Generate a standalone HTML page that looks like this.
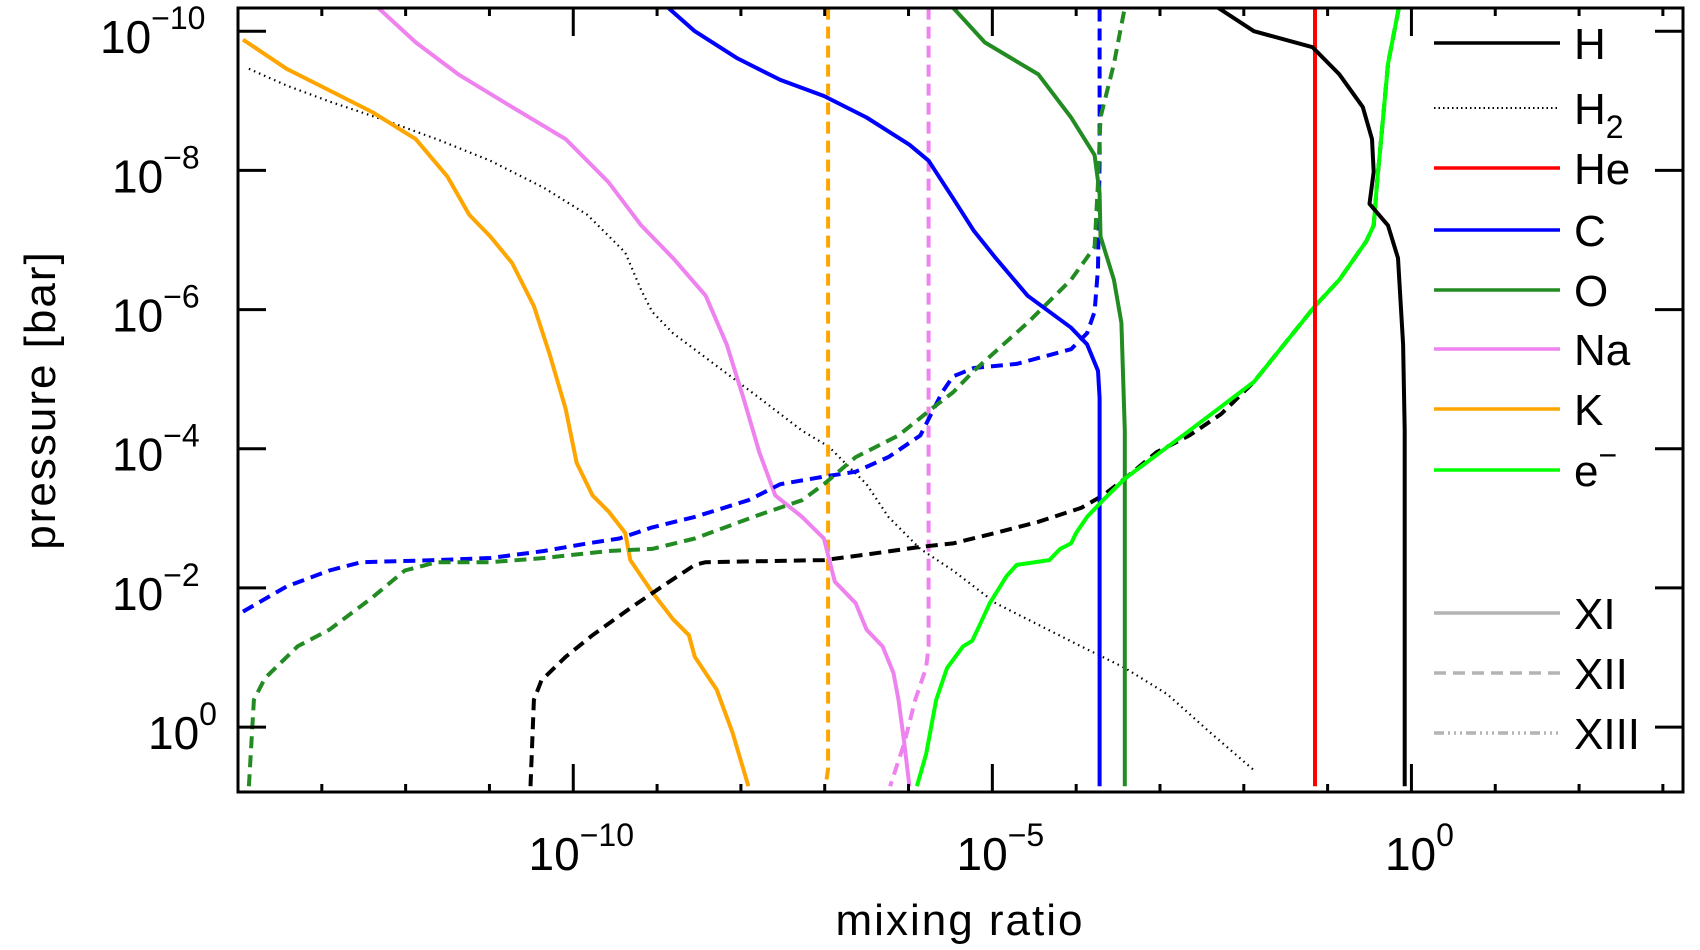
<!DOCTYPE html>
<html><head><meta charset="utf-8"><style>
html,body{margin:0;padding:0;background:#fff;}
svg{display:block;font-family:"Liberation Sans",sans-serif;}
</style></head><body>
<svg id="chart" width="1700" height="950" viewBox="0 0 1700 950" xmlns="http://www.w3.org/2000/svg">
<defs><clipPath id="plotclip"><rect x="238" y="8" width="1445" height="784"/></clipPath></defs>
<g id="series" clip-path="url(#plotclip)"></g>
<g id="axes"></g>
<g id="legend"></g>
<text x="960" y="935" font-size="44" text-anchor="middle" letter-spacing="2">mixing ratio</text>
<text transform="translate(55,400) rotate(-90)" font-size="44" text-anchor="middle" letter-spacing="2">pressure [bar]</text>
</svg>
<script>
// log10 values
const hSolidX=[-2.31,-1.88,-1.18,-0.86,-0.58,-0.47,-0.45,-0.5,-0.28,-0.16,-0.1,-0.08,-0.08];
const hSolidP=[-10.34,-10,-9.77,-9.38,-8.91,-8.45,-7.98,-7.52,-7.21,-6.74,-5.5,-4.26,0.85];
const hDashX=[-10.51,-10.47,-10.38,-10.09,-9.77,-9.32,-8.94,-8.55,-8.42,-7.01,-6.5,-5.86,-5.47,-4.96,-4.45,-3.94,-3.68,-3.42,-3.04,-2.65,-2.27,-1.88,-1.15,-0.86,-0.54,-0.45,-0.41,-0.35,-0.28,-0.15];
const hDashP=[0.85,-0.39,-0.67,-1.01,-1.32,-1.71,-2.02,-2.33,-2.37,-2.4,-2.48,-2.59,-2.64,-2.79,-2.95,-3.15,-3.33,-3.57,-3.95,-4.19,-4.5,-4.96,-6.05,-6.43,-6.98,-7.21,-7.83,-8.6,-9.53,-10.34];
const eX=[-5.9,-5.79,-5.67,-5.54,-5.35,-5.24,-5.15,-5.03,-4.83,-4.71,-4.32,-4.19,-4.06,-4,-3.87,-3.68,-3.42,-2.65,-1.88,-1.15,-0.86,-0.54,-0.45,-0.41,-0.35,-0.28,-0.15];
const eP=[0.85,0.39,-0.39,-0.85,-1.16,-1.24,-1.47,-1.78,-2.17,-2.33,-2.4,-2.56,-2.64,-2.79,-3.02,-3.26,-3.57,-4.26,-4.96,-6.05,-6.43,-6.98,-7.21,-7.83,-8.6,-9.53,-10.34];
const heX=[-1.15,-1.15];
const heP=[-10.34,0.85];
const h2X=[-13.87,-13.42,-12.91,-12.27,-11.63,-10.99,-10.35,-9.83,-9.38,-9.19,-9.06,-8.81,-8.29,-7.78,-7.27,-6.95,-6.76,-6.5,-6.24,-5.86,-5.47,-4.96,-4.45,-3.94,-3.42,-2.91,-2.4,-1.88];
const h2P=[-9.46,-9.22,-8.99,-8.73,-8.45,-8.14,-7.75,-7.36,-6.82,-6.28,-5.97,-5.66,-5.19,-4.73,-4.26,-4.03,-3.8,-3.49,-3.02,-2.56,-2.25,-1.78,-1.47,-1.16,-0.85,-0.47,0.08,0.62];
const cSolidX=[-8.87,-8.55,-8.04,-7.53,-7.01,-6.5,-5.99,-5.76,-5.47,-5.22,-4.96,-4.58,-4.06,-3.87,-3.74,-3.72,-3.72];
const cSolidP=[-10.34,-10,-9.61,-9.3,-9.07,-8.76,-8.37,-8.14,-7.6,-7.13,-6.74,-6.2,-5.74,-5.5,-5.12,-4.73,0.85];
const cDashX=[-13.94,-13.42,-12.91,-12.53,-11.63,-10.99,-10.35,-9.83,-9.45,-9.06,-8.55,-7.91,-7.53,-7.01,-6.63,-6.24,-5.86,-5.73,-5.6,-5.47,-5.22,-4.71,-4.06,-3.87,-3.78,-3.74,-3.72,-3.72];
const cDashP=[-1.66,-2.02,-2.25,-2.37,-2.4,-2.43,-2.53,-2.64,-2.71,-2.87,-3.02,-3.26,-3.49,-3.6,-3.67,-3.88,-4.19,-4.5,-4.81,-5.04,-5.16,-5.22,-5.43,-5.66,-5.97,-6.59,-8.14,-10.34];
const oSolidX=[-5.47,-5.09,-4.45,-4.06,-3.78,-3.72,-3.71,-3.55,-3.46,-3.42,-3.42];
const oSolidP=[-10.34,-9.84,-9.38,-8.76,-8.22,-7.67,-7.05,-6.43,-5.81,-4.26,0.85];
const oDashX=[-13.87,-13.81,-13.68,-13.29,-12.91,-12.4,-12.01,-11.63,-10.99,-10.35,-9.58,-9.06,-8.55,-7.78,-7.27,-7.01,-6.63,-6.12,-5.73,-5.47,-5.22,-4.58,-4.06,-3.78,-3.74,-3.71,-3.55,-3.42];
const oDashP=[0.85,-0.39,-0.7,-1.16,-1.4,-1.86,-2.25,-2.37,-2.37,-2.43,-2.53,-2.56,-2.71,-3.05,-3.26,-3.49,-3.88,-4.19,-4.57,-4.81,-5.12,-5.81,-6.43,-6.9,-7.83,-8.76,-9.53,-10.34];
const naSolidX=[-12.33,-11.88,-11.37,-10.73,-10.09,-9.58,-9.19,-8.81,-8.42,-8.17,-7.97,-7.78,-7.59,-7.27,-7.01,-6.88,-6.63,-6.5,-6.31,-6.18,-6.12,-6.05,-5.99];
const naSolidP=[-10.34,-9.84,-9.38,-8.91,-8.45,-7.83,-7.21,-6.74,-6.2,-5.5,-4.73,-3.95,-3.33,-3.02,-2.71,-2.09,-1.78,-1.4,-1.16,-0.78,-0.39,0.23,0.85];
const naDashX=[-5.76,-5.76,-5.79,-5.92,-6.05,-6.22];
const naDashP=[-10.34,-1.16,-0.85,-0.39,0.23,0.85];
const kSolidX=[-13.94,-13.42,-12.91,-12.4,-11.88,-11.5,-11.24,-10.99,-10.73,-10.47,-10.28,-10.09,-9.96,-9.77,-9.58,-9.38,-9.32,-9.06,-8.81,-8.62,-8.55,-8.29,-8.1,-7.91];
const kSolidP=[-9.88,-9.46,-9.15,-8.84,-8.45,-7.91,-7.36,-7.05,-6.67,-6.05,-5.35,-4.57,-3.8,-3.33,-3.1,-2.79,-2.4,-1.94,-1.55,-1.32,-1.01,-0.54,0.08,0.85];
const kDashX=[-6.96,-6.96,-6.99];
const kDashP=[-10.34,0.6,0.85];
const legendLabels=["H","H2","He","C","O","Na","K","e-","XI","XII","XIII"];
const xTickExps=[-10,-5,0];
const yTickExps=[-10,-8,-6,-4,-2,0];

const NS="http://www.w3.org/2000/svg";
const X0=238,X1=1683,Y0=8,Y1=792;
const LX0=-14,LX1=3.24,LP0=-10.334,LP1=0.933;
function sx(l){return X0+(l-LX0)/(LX1-LX0)*(X1-X0);}
function sy(l){return Y0+(l-LP0)/(LP1-LP0)*(Y1-Y0);}
function mk(tag,attrs,parent){const e=document.createElementNS(NS,tag);for(const k in attrs)e.setAttribute(k,attrs[k]);parent.appendChild(e);return e;}
const DASH="12,7", DOT="1.5,4", DDD="10,4,2,4,2,4,2,4";
const seriesG=document.getElementById('series');
function line(xs,ps,color,dash,name,w){
  const d=xs.map((v,i)=>(i?'L':'M')+sx(v).toFixed(1)+','+sy(ps[i]).toFixed(1)).join('');
  const p=mk('path',{d:d,fill:'none',stroke:color,'stroke-width':w||4,'stroke-dasharray':dash||'none','stroke-linejoin':'round'},seriesG);
  
  
}
line(h2X,h2P,'#000',DOT,'h2-line',2.2);
line(kSolidX,kSolidP,'#ffa500','','k-neutral-line');
line(kDashX,kDashP,'#ffa500',DASH,'k-ion-line');
line(naSolidX,naSolidP,'#ee82ee','','na-neutral-line');
line(naDashX,naDashP,'#ee82ee',DASH,'na-ion-line');
line(cDashX,cDashP,'#0000ff',DASH,'c-ion-line');
line(oDashX,oDashP,'#228b22',DASH,'o-ion-line');
line(hDashX,hDashP,'#000',DASH,'h-ion-line');
line(cSolidX,cSolidP,'#0000ff','','c-neutral-line');
line(oSolidX,oSolidP,'#228b22','','o-neutral-line');
line(eX,eP,'#00ff00','','electron-line');
line(heX,heP,'#ff0000','','he-line');
line(hSolidX,hSolidP,'#000','','h-neutral-line');

const ax=document.getElementById('axes');
const fr=mk('rect',{x:X0,y:Y0,width:X1-X0,height:Y1-Y0,fill:'none',stroke:'#000','stroke-width':3},ax);


for(let l=-13;l<=3;l++){
  const x=sx(l);const major=xTickExps.includes(l);const len=major?28:8;
  mk('line',{x1:x,y1:Y1,x2:x,y2:Y1-len,stroke:'#000','stroke-width':3},ax);
  mk('line',{x1:x,y1:Y0,x2:x,y2:Y0+len,stroke:'#000','stroke-width':3},ax);
}
xTickExps.forEach(l=>{
  const t=mk('text',{x:sx(l)+8,y:870,'font-size':46,'text-anchor':'middle'},ax);
  
  
  t.appendChild(document.createTextNode('10'));
  const s=mk('tspan',{dy:-24,'font-size':32},t);s.textContent=(l<0?'\u2212':'')+Math.abs(l);
});
yTickExps.forEach(l=>{
  const y=sy(l);
  mk('line',{x1:X0,y1:y,x2:X0+28,y2:y,stroke:'#000','stroke-width':3},ax);
  mk('line',{x1:X1,y1:y,x2:X1-28,y2:y,stroke:'#000','stroke-width':3},ax);
  const t=mk('text',{x:l===0?148:(l===-10?100:112),y:y+22,'font-size':46},ax);
  
  
  t.appendChild(document.createTextNode('10'));
  const s=mk('tspan',{dy:-24,'font-size':32},t);s.textContent=l===0?'0':'\u2212'+Math.abs(l);
});

const lg=document.getElementById('legend');
const lgColors=['#000','#000','#ff0000','#0000ff','#228b22','#ee82ee','#ffa500','#00ff00','#b4b4b4','#b4b4b4','#b4b4b4'];
const lgDash=['','1.5,3','','','','','','','',DASH,DDD];
const lgY=[43,108,168,230,290,349,409,470,613,673,733];
legendLabels.forEach((lab,i)=>{
  const y=lgY[i];
  const l=mk('line',{x1:1434,y1:y,x2:1560,y2:y,stroke:lgColors[i],'stroke-width':i===1?2:3.5,'stroke-dasharray':lgDash[i]||'none'},lg);
  
  
  const t=mk('text',{x:1574,y:y+16,'font-size':44},lg);
  
  
  if(lab==='H2'){t.textContent='H';const s=mk('tspan',{dy:14,'font-size':32},t);s.textContent='2';}
  else if(lab==='e-'){t.textContent='e';const s=mk('tspan',{dy:-20,'font-size':32},t);s.textContent='\u2212';}
  else t.textContent=lab;
});
</script>
</body></html>
